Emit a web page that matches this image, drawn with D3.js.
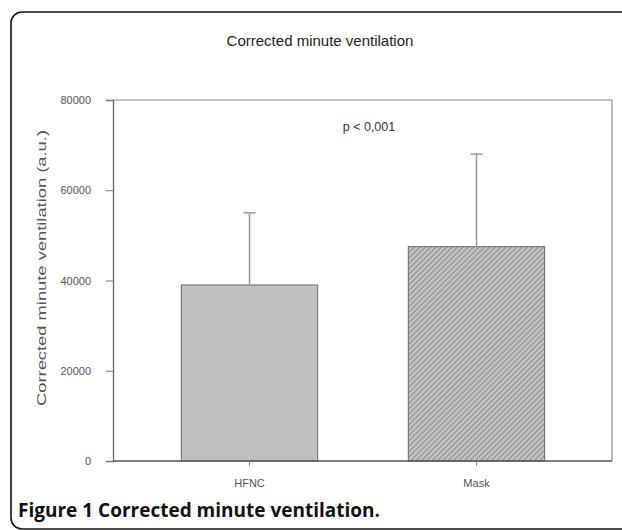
<!DOCTYPE html>
<html>
<head>
<script src="https://cdnjs.cloudflare.com/ajax/libs/d3/7.8.5/d3.min.js"></script>
<style>
  body { margin: 0; background: #fff; }
  svg { display: block; font-family: Arial, "Liberation Sans", sans-serif; }
</style>
</head>
<body>
<svg id="chart" width="622" height="530"></svg>
<script>
// data
const groups = ["HFNC", "Mask"];
const means = [39000, 47500];
const sdUpper = [55000, 68000];
const yTicks = [0, 20000, 40000, 60000, 80000];

const svg = d3.select("#chart");

// outer figure frame (runs off the right edge)
svg.append("rect")
  .attr("x", 11).attr("y", 12)
  .attr("width", 640).attr("height", 517)
  .attr("rx", 11)
  .attr("fill", "none")
  .attr("stroke", "#111")
  .attr("stroke-width", 1.6);

// hatch pattern for the Mask bar
const defs = svg.append("defs");
const hatch = defs.append("pattern")
  .attr("id", "hatch")
  .attr("patternUnits", "userSpaceOnUse")
  .attr("width", 3.8).attr("height", 3.8)
  .attr("patternTransform", "rotate(45)");
hatch.append("rect").attr("width", 3.8).attr("height", 3.8).attr("fill", "#c2c2c2");
hatch.append("line")
  .attr("x1", 0).attr("y1", 0).attr("x2", 0).attr("y2", 3.8)
  .attr("stroke", "#727272").attr("stroke-width", 1.4);

const plot = { left: 113, right: 612, top: 100, bottom: 461 };

const y = d3.scaleLinear().domain([0, 80000]).range([plot.bottom, plot.top]);
const x = d3.scaleBand().domain(groups).range([136, 590]).paddingInner(0.4).paddingOuter(0.2);

// title
svg.append("text")
  .attr("x", 320).attr("y", 46)
  .attr("text-anchor", "middle")
  .attr("font-size", 15)
  .attr("fill", "#222")
  .text("Corrected minute ventilation");

// frame top/right
svg.append("path")
  .attr("d", `M${plot.left},${plot.top}H${plot.right}V${plot.bottom}`)
  .attr("fill", "none")
  .attr("stroke", "#8a8a8a")
  .attr("stroke-width", 1.2);

// y axis
const yAxis = svg.append("g")
  .attr("transform", `translate(${plot.left},0)`)
  .call(d3.axisLeft(y).tickValues(yTicks).tickSize(7).tickPadding(15).tickFormat(d3.format("d")));
yAxis.select(".domain").attr("stroke", "#666").attr("stroke-width", 1.3);
yAxis.selectAll(".tick line").attr("stroke", "#777");
yAxis.selectAll(".tick text").attr("font-size", 11).attr("fill", "#555").attr("font-family", "Arial, sans-serif");

// y label (stretched like the scanned figure)
svg.append("text")
  .attr("transform", "translate(46,268) rotate(-90)")
  .attr("text-anchor", "middle")
  .attr("font-size", 13)
  .attr("fill", "#555")
  .attr("textLength", 276)
  .attr("lengthAdjust", "spacingAndGlyphs")
  .text("Corrected minute ventilation (a.u.)");

// bars
svg.selectAll(".bar")
  .data(groups)
  .enter().append("rect")
  .attr("class", "bar")
  .attr("x", d => x(d))
  .attr("y", (d, i) => y(means[i]))
  .attr("width", x.bandwidth())
  .attr("height", (d, i) => y(0) - y(means[i]))
  .attr("fill", (d, i) => i === 0 ? "#c0c0c0" : "url(#hatch)")
  .attr("stroke", "#7a7a7a")
  .attr("stroke-width", 1.2);

// error bars
const err = svg.selectAll(".err").data(groups).enter().append("g").attr("class", "err");
err.append("line")
  .attr("x1", d => x(d) + x.bandwidth() / 2)
  .attr("x2", d => x(d) + x.bandwidth() / 2)
  .attr("y1", (d, i) => y(means[i]))
  .attr("y2", (d, i) => y(sdUpper[i]))
  .attr("stroke", "#999").attr("stroke-width", 1.5);
err.append("line")
  .attr("x1", d => x(d) + x.bandwidth() / 2 - 6)
  .attr("x2", d => x(d) + x.bandwidth() / 2 + 6)
  .attr("y1", (d, i) => y(sdUpper[i]))
  .attr("y2", (d, i) => y(sdUpper[i]))
  .attr("stroke", "#999").attr("stroke-width", 1.5);

// x axis
const xAxis = svg.append("g")
  .attr("transform", `translate(0,${plot.bottom})`)
  .call(d3.axisBottom(x).tickSize(5).tickPadding(13));
xAxis.select(".domain").attr("d", `M${plot.left},0H${plot.right}`).attr("stroke", "#555").attr("stroke-width", 1.5);
xAxis.selectAll(".tick line").attr("stroke", "#888");
xAxis.selectAll(".tick text").attr("font-size", 11).attr("fill", "#555").attr("font-family", "Arial, sans-serif");

// p value
svg.append("text")
  .attr("x", 369).attr("y", 131)
  .attr("text-anchor", "middle")
  .attr("font-size", 12.5)
  .attr("fill", "#333")
  .text("p < 0,001");

// caption
svg.append("text")
  .attr("x", 18).attr("y", 517)
  .attr("font-family", "'Open Sans', sans-serif")
  .attr("font-weight", "bold")
  .attr("font-size", 19)
  .attr("fill", "#111")
  .text("Figure 1 Corrected minute ventilation.");
</script>
</body>
</html>
